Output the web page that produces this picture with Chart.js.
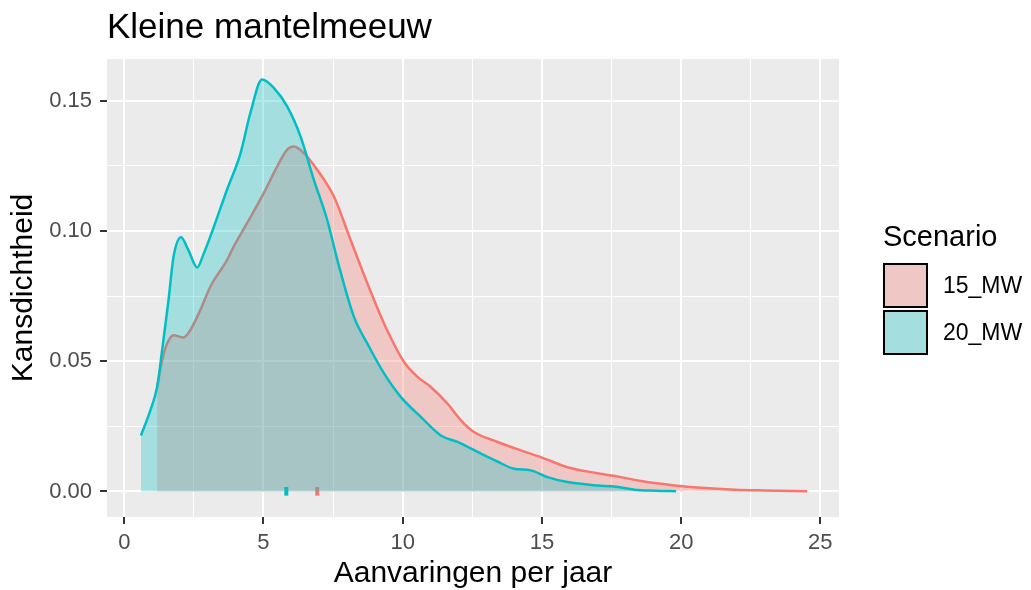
<!DOCTYPE html>
<html>
<head>
<meta charset="utf-8">
<script src="https://cdn.jsdelivr.net/npm/chart.js@4.4.1/dist/chart.umd.min.js"></script>
<style>
html, body { margin: 0; padding: 0; background: #fff; }
</style>
</head>
<body>
<canvas id="myChart" width="1031" height="590"></canvas>
<script>
const FONT = "'Liberation Sans', Arial, sans-serif";

const scenarios = ['15_MW', '20_MW'];
const lineColors = ['#F8766D', '#00BFC4'];
const fillColors = ['rgba(248,118,109,0.3)', 'rgba(0,191,196,0.3)'];

// density curves
const x15 = [1.18, 1.36, 1.54, 1.77, 2.13, 2.37, 2.73, 3.09, 3.69, 3.93, 4.41, 5.01, 5.49, 5.85, 6.09, 6.45, 6.93, 7.53, 8.13, 8.73, 9.33, 10.05, 10.53, 11.01, 11.61, 12.09, 12.56, 13.41, 14.24, 14.96, 15.92, 17.00, 17.84, 18.56, 19.76, 20.72, 21.92, 23.00, 24.53];
const y15 = [0.0400, 0.0504, 0.0568, 0.0600, 0.0591, 0.0619, 0.0696, 0.0786, 0.0888, 0.0940, 0.1030, 0.1145, 0.1247, 0.1312, 0.1324, 0.1299, 0.1235, 0.1132, 0.0965, 0.0799, 0.0645, 0.0497, 0.0440, 0.0401, 0.0337, 0.0273, 0.0228, 0.0190, 0.0158, 0.0132, 0.0093, 0.0070, 0.0055, 0.0040, 0.0023, 0.0014, 0.0007, 0.0004, 0.0001];

const x20 = [0.60, 0.94, 1.18, 1.36, 1.59, 1.77, 2.04, 2.30, 2.62, 2.85, 3.09, 3.69, 4.17, 4.53, 4.95, 5.37, 5.85, 6.33, 6.81, 7.29, 7.65, 8.25, 8.73, 9.33, 9.93, 10.65, 11.37, 11.97, 12.81, 13.40, 14.00, 14.60, 15.20, 15.92, 17.00, 17.60, 18.32, 19.10, 19.82];
const y20 = [0.0215, 0.0312, 0.0401, 0.0542, 0.0735, 0.0901, 0.0976, 0.0927, 0.0860, 0.0912, 0.0978, 0.1158, 0.1296, 0.1453, 0.1581, 0.1549, 0.1478, 0.1363, 0.1196, 0.1042, 0.0890, 0.0670, 0.0568, 0.0453, 0.0363, 0.0286, 0.0215, 0.0190, 0.0145, 0.0115, 0.0087, 0.0081, 0.0055, 0.0036, 0.0023, 0.0019, 0.0007, 0.0003, 0.0001];

// small marks on the baseline
const meanValues = [6.93, 5.82];

const xMajor = [0, 5, 10, 15, 20, 25];
const xMinor = [2.5, 7.5, 12.5, 17.5, 22.5];
const yMajor = [0, 0.05, 0.10, 0.15];
const yMinor = [0.025, 0.075, 0.125];

const isMajor = (list, v) => list.some(m => Math.abs(m - v) < 1e-9);

const pts = (xs, ys) => xs.map((x, i) => ({x: x, y: ys[i]}));

const rug = (i) => ({
    label: 'mean ' + scenarios[i],
    data: [{x: meanValues[i], y: -0.0016}, {x: meanValues[i], y: 0.0017}],
    borderColor: lineColors[i],
    borderWidth: 4,
    borderCapStyle: 'butt',
    pointRadius: 0,
    fill: false,
    order: i === 0 ? 3 : 1
});

const decor = {
    id: 'decor',
    beforeDraw(chart) {
        const {ctx, chartArea: a} = chart;
        ctx.save();
        ctx.fillStyle = '#fff';
        ctx.fillRect(0, 0, chart.width, chart.height);
        ctx.fillStyle = '#EBEBEB';
        ctx.fillRect(a.left, a.top, a.right - a.left, a.bottom - a.top);
        ctx.restore();
    },
    afterDraw(chart) {
        const ctx = chart.ctx;
        ctx.save();
        ctx.fillStyle = '#000';
        ctx.textBaseline = 'alphabetic';
        ctx.textAlign = 'left';
        ctx.font = '35px ' + FONT;
        ctx.fillText('Kleine mantelmeeuw', 107, 38);

        ctx.font = '29px ' + FONT;
        ctx.fillText('Scenario', 883, 246);

        scenarios.forEach((s, i) => {
            const y0 = 264 + i * 47;
            ctx.fillStyle = '#EBEBEB';
            ctx.fillRect(884, y0, 43, 43);
            ctx.fillStyle = fillColors[i];
            ctx.fillRect(884, y0, 43, 43);
            ctx.strokeStyle = '#000';
            ctx.lineWidth = 2;
            ctx.strokeRect(884, y0, 43, 43);
            ctx.fillStyle = '#000';
            ctx.font = '23px ' + FONT;
            ctx.textBaseline = 'middle';
            ctx.fillText(s, 943, y0 + 23);
        });
        ctx.restore();
    }
};

const ctx = document.getElementById('myChart');

new Chart(ctx, {
    type: 'line',
    data: {
        datasets: [
            {
                label: scenarios[0],
                data: pts(x15, y15),
                borderColor: lineColors[0],
                backgroundColor: fillColors[0],
                borderWidth: 2.5,
                pointRadius: 0,
                cubicInterpolationMode: 'monotone',
                fill: 'origin',
                order: 4
            },
            {
                label: scenarios[1],
                data: pts(x20, y20),
                borderColor: lineColors[1],
                backgroundColor: fillColors[1],
                borderWidth: 2.5,
                pointRadius: 0,
                cubicInterpolationMode: 'monotone',
                fill: 'origin',
                order: 2
            },
            rug(0),
            rug(1)
        ]
    },
    options: {
        responsive: false,
        animation: false,
        layout: {
            padding: {top: 59, right: 192, left: 0, bottom: 0}
        },
        plugins: {
            legend: {display: false},
            tooltip: {enabled: false},
            title: {display: false}
        },
        scales: {
            x: {
                type: 'linear',
                min: -0.62,
                max: 25.67,
                afterBuildTicks: s => { s.ticks = xMajor.concat(xMinor).sort((a, b) => a - b).map(v => ({value: v})); },
                afterFit: s => { s.height = 73; },
                border: {display: false},
                grid: {
                    color: '#fff',
                    lineWidth: c => isMajor(xMajor, c.tick.value) ? 2 : 1,
                    tickColor: c => isMajor(xMajor, c.tick.value) ? '#333' : 'rgba(0,0,0,0)',
                    tickWidth: 2,
                    tickLength: 7
                },
                ticks: {
                    autoSkip: false,
                    maxRotation: 0,
                    padding: 6,
                    color: '#4D4D4D',
                    font: {family: FONT, size: 22},
                    callback: v => isMajor(xMajor, v) ? String(v) : ''
                },
                title: {
                    display: true,
                    text: 'Aanvaringen per jaar',
                    color: '#000',
                    font: {family: FONT, size: 30, lineHeight: 1},
                    padding: {top: 0, bottom: 1}
                }
            },
            y: {
                min: -0.0098,
                max: 0.166,
                afterBuildTicks: s => { s.ticks = yMajor.concat(yMinor).sort((a, b) => a - b).map(v => ({value: v})); },
                afterFit: s => { s.width = 107; },
                border: {display: false},
                grid: {
                    color: '#fff',
                    lineWidth: c => isMajor(yMajor, c.tick.value) ? 2 : 1,
                    tickColor: c => isMajor(yMajor, c.tick.value) ? '#333' : 'rgba(0,0,0,0)',
                    tickWidth: 2,
                    tickLength: 7
                },
                ticks: {
                    autoSkip: false,
                    padding: 8,
                    color: '#4D4D4D',
                    font: {family: FONT, size: 22},
                    callback: v => isMajor(yMajor, v) ? v.toFixed(2) : ''
                },
                title: {
                    display: true,
                    text: 'Kansdichtheid',
                    color: '#000',
                    font: {family: FONT, size: 30, lineHeight: 1},
                    padding: {top: 9, bottom: 0}
                }
            }
        }
    },
    plugins: [decor]
});
</script>
</body>
</html>
